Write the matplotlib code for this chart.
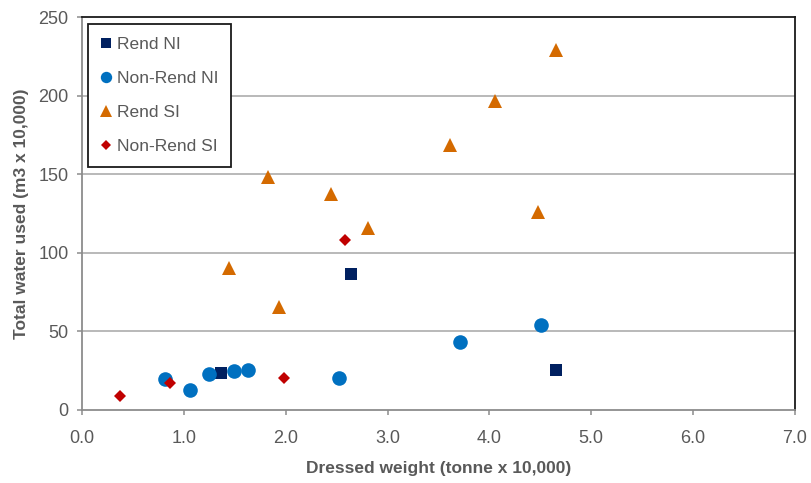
import matplotlib
matplotlib.use("Agg")
import matplotlib.pyplot as plt
from matplotlib.ticker import FormatStrFormatter

plt.rcParams['font.family'] = ['Liberation Sans', 'DejaVu Sans']

# dressed weight (tonne x 10,000) and total water used (m3 x 10,000)
rend_ni_x = [1.36, 2.64, 4.65]
rend_ni_y = [23.3, 86.8, 25.4]

nonrend_ni_x = [0.81, 1.06, 1.25, 1.49, 1.63, 2.52, 3.71, 4.51]
nonrend_ni_y = [19.6, 12.5, 22.7, 24.5, 25.7, 20.4, 43.2, 54.1]

rend_si_x = [1.44, 1.83, 1.93, 2.44, 2.81, 3.61, 4.05, 4.48, 4.65]
rend_si_y = [90.5, 148.0, 65.5, 137.5, 115.5, 168.6, 196.5, 126.0, 229.0]

nonrend_si_x = [0.37, 0.86, 1.98, 2.58]
nonrend_si_y = [9.1, 17.4, 20.1, 107.9]

x_ticks = [0, 1, 2, 3, 4, 5, 6, 7]
y_ticks = [0, 50, 100, 150, 200, 250]

grey = '#595959'

fig = plt.figure(figsize=(8.11, 4.83), dpi=100)
ax = fig.add_axes([82 / 811, 1 - 410 / 483, (795 - 82) / 811, (410 - 17) / 483])

for y in y_ticks[1:-1]:
    ax.axhline(y, color='#A6A6A6', lw=1.1, zorder=0)

ax.plot(rend_ni_x, rend_ni_y, 's', color='#002060', ms=8.8, mew=0, label='Rend NI', zorder=3)
ax.plot(nonrend_ni_x, nonrend_ni_y, 'o', color='#0070C0', ms=10.5, mew=0, label='Non-Rend NI', zorder=3)
ax.plot(rend_si_x, rend_si_y, '^', color='#D46A00', ms=10.5, mew=0, label='Rend SI', zorder=3)
ax.plot(nonrend_si_x, nonrend_si_y, 'D', color='#C00000', ms=6.5, mew=0, label='Non-Rend SI', zorder=3)

ax.set_xlim(0, 7)
ax.set_ylim(0, 250)
ax.set_xticks(x_ticks)
ax.set_yticks(y_ticks)
ax.xaxis.set_major_formatter(FormatStrFormatter('%.1f'))

ax.spines['left'].set_color('#8C8C8C')
ax.spines['bottom'].set_color('#8C8C8C')
ax.spines['top'].set_color('#1A1A1A')
ax.spines['right'].set_color('#1A1A1A')
for s in ax.spines.values():
    s.set_linewidth(1.3)

ax.tick_params(axis='both', direction='out', length=3.6, width=1.1, color='#8C8C8C',
               labelcolor=grey, labelsize=13)
ax.tick_params(axis='y', pad=6)
ax.tick_params(axis='x', pad=11)

ax.set_xlabel('Dressed weight (tonne x 10,000)', fontsize=12.5, fontweight='bold',
              color=grey, labelpad=10)
ax.set_ylabel('Total water used (m3 x 10,000)', fontsize=12.5, fontweight='bold',
              color=grey, labelpad=7)

leg = ax.legend(loc='upper left', bbox_to_anchor=(0.008, 0.982), fontsize=12.5,
                frameon=True, fancybox=False, edgecolor='#1A1A1A', framealpha=1,
                handlelength=0.7, handletextpad=0.25, labelspacing=1.1,
                borderpad=0.72, borderaxespad=0, markerscale=0.78)
leg.get_frame().set_linewidth(1.3)
for t in leg.get_texts():
    t.set_color(grey)

fig.savefig('out.png', dpi=100, facecolor='white')
